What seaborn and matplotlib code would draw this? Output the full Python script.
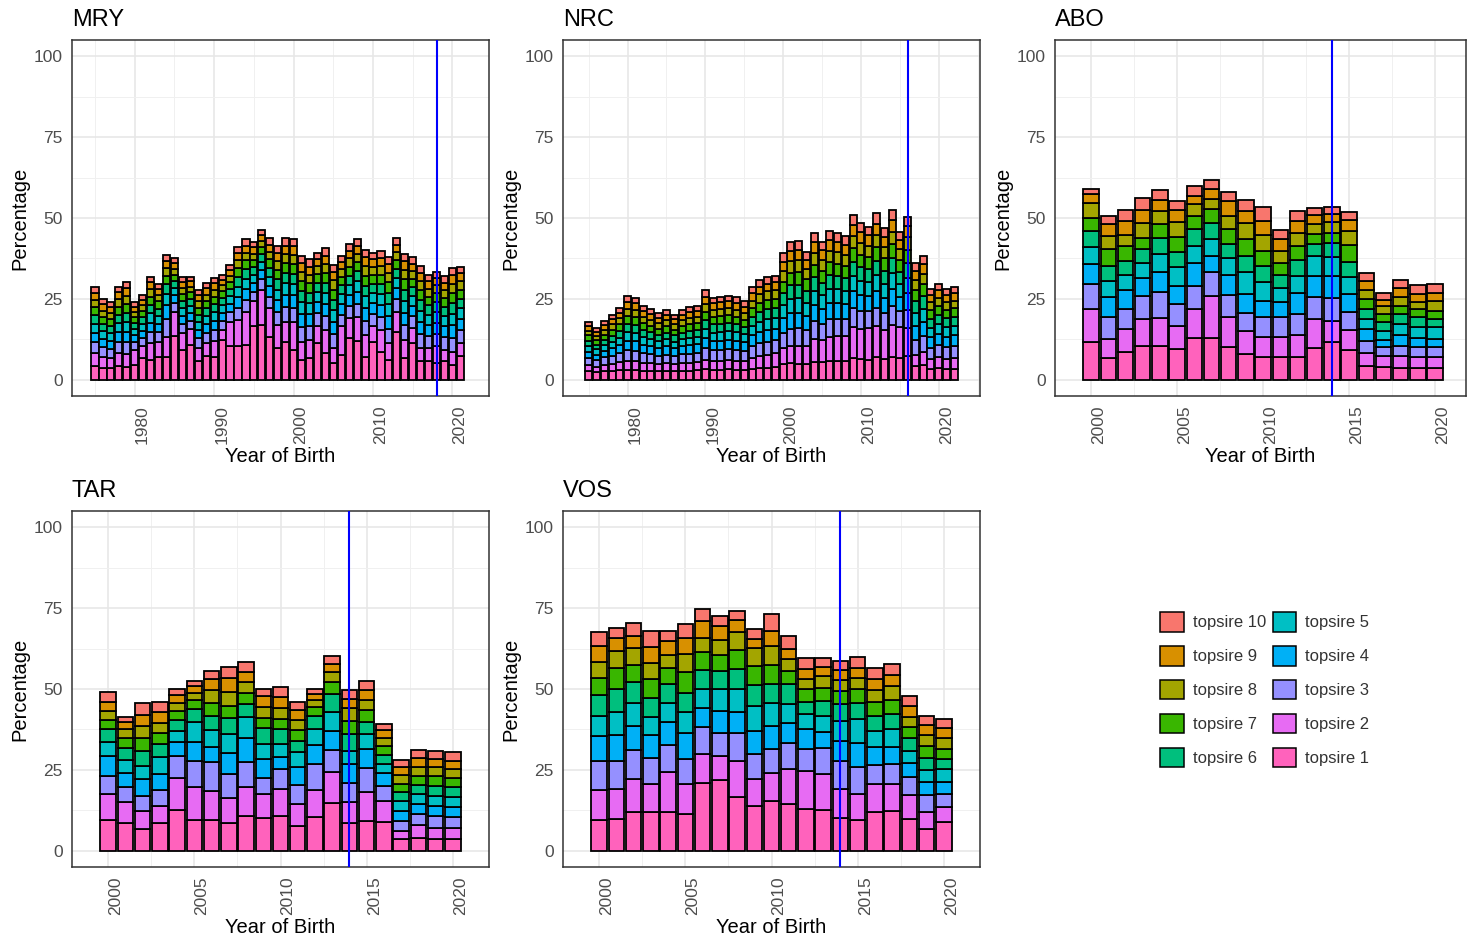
import matplotlib
matplotlib.use("Agg")
import matplotlib.pyplot as plt
from matplotlib.patches import Patch
from matplotlib.ticker import MultipleLocator
import pandas as pd
import seaborn as sns

# ---------------------------------------------------------------------------
# Share of offspring (%) sired by each of the ten most used sires, per birth
# year. Each row lists topsire 1 .. topsire 10 for one year.
# ---------------------------------------------------------------------------
sires = [f"topsire {i}" for i in range(1, 11)]
sire_colors = ["#FF62BC", "#E76BF3", "#9590FF", "#00B0F6", "#00BFC4",
               "#00BF7D", "#39B600", "#A3A500", "#D89000", "#F8766D"]

mry_years = list(range(1975, 2022))
mry_pct = [
    [4.3, 3.9, 3.4, 3.0, 2.8, 2.6, 2.5, 2.3, 2.1, 1.7],
    [3.6, 3.6, 2.8, 2.6, 2.4, 2.3, 2.1, 2.0, 1.9, 1.6],
    [3.6, 3.1, 2.9, 2.5, 2.3, 2.2, 2.1, 2.0, 1.8, 1.5],
    [4.4, 4.0, 3.3, 3.0, 2.8, 2.6, 2.5, 2.3, 2.1, 1.8],
    [4.1, 3.9, 3.6, 3.3, 3.0, 2.9, 2.7, 2.5, 2.3, 1.8],
    [4.6, 4.7, 2.4, 2.1, 2.0, 1.9, 1.8, 1.6, 1.5, 1.3],
    [6.7, 3.6, 2.6, 2.3, 2.1, 2.0, 1.9, 1.8, 1.7, 1.6],
    [6.2, 5.1, 3.4, 3.0, 2.8, 2.7, 2.5, 2.3, 2.1, 1.8],
    [6.9, 4.9, 2.9, 2.6, 2.4, 2.3, 2.2, 2.0, 1.8, 1.6],
    [6.9, 6.3, 5.6, 4.4, 3.4, 3.0, 2.6, 2.4, 2.2, 1.8],
    [13.6, 7.5, 2.6, 2.4, 2.2, 2.1, 2.0, 1.9, 1.8, 1.5],
    [9.3, 5.1, 2.8, 2.5, 2.4, 2.2, 2.1, 1.9, 1.8, 1.6],
    [10.8, 4.8, 2.7, 2.4, 2.2, 2.1, 2.0, 1.8, 1.7, 1.4],
    [5.9, 3.9, 3.0, 2.6, 2.4, 2.3, 2.2, 2.0, 1.9, 1.6],
    [7.4, 3.9, 3.1, 2.8, 2.5, 2.4, 2.2, 2.0, 2.0, 1.7],
    [7.2, 4.9, 3.2, 2.9, 2.7, 2.5, 2.3, 2.1, 2.0, 1.8],
    [12.3, 3.1, 2.8, 2.5, 2.3, 2.2, 2.1, 1.9, 1.7, 1.5],
    [10.5, 7.5, 2.9, 2.6, 2.4, 2.2, 2.1, 1.9, 1.8, 1.6],
    [10.5, 8.0, 3.8, 3.4, 3.1, 2.9, 2.7, 2.5, 2.2, 1.8],
    [10.7, 10.4, 3.7, 3.4, 3.1, 2.9, 2.7, 2.4, 2.2, 1.9],
    [16.5, 7.7, 3.0, 2.7, 2.5, 2.4, 2.2, 2.0, 1.9, 1.6],
    [17.0, 10.8, 3.4, 2.8, 2.5, 2.3, 2.1, 2.0, 1.9, 1.5],
    [13.2, 8.9, 3.6, 3.2, 2.9, 2.8, 2.6, 2.4, 2.2, 1.9],
    [9.8, 7.2, 4.0, 3.6, 3.3, 3.1, 2.9, 2.7, 2.5, 2.1],
    [11.8, 6.2, 4.4, 3.9, 3.5, 3.3, 3.1, 2.8, 2.5, 2.2],
    [9.1, 8.9, 4.3, 3.8, 3.5, 3.2, 3.0, 2.8, 2.6, 2.2],
    [6.0, 5.8, 4.5, 4.0, 3.6, 3.4, 3.2, 2.9, 2.7, 2.2],
    [6.7, 5.6, 4.2, 3.7, 3.4, 3.2, 3.0, 2.7, 2.5, 2.2],
    [11.3, 5.4, 3.8, 3.4, 3.1, 2.9, 2.7, 2.5, 2.3, 1.9],
    [8.4, 7.0, 4.2, 3.8, 3.4, 3.2, 3.0, 2.8, 2.6, 2.2],
    [5.1, 4.7, 4.3, 3.9, 3.5, 3.3, 3.1, 2.9, 2.6, 2.1],
    [7.7, 8.8, 3.6, 3.3, 3.0, 2.8, 2.6, 2.4, 2.2, 1.9],
    [12.9, 6.1, 3.8, 3.4, 3.1, 2.9, 2.8, 2.6, 2.3, 2.0],
    [12.1, 7.4, 4.0, 3.6, 3.3, 3.1, 2.9, 2.6, 2.4, 2.0],
    [7.2, 6.7, 4.4, 3.9, 3.6, 3.3, 3.1, 2.9, 2.7, 2.3],
    [11.8, 4.7, 3.8, 3.4, 3.1, 2.9, 2.7, 2.5, 2.3, 1.9],
    [8.7, 6.7, 4.1, 3.7, 3.3, 3.1, 2.9, 2.7, 2.5, 2.2],
    [6.2, 5.1, 4.5, 4.0, 3.7, 3.4, 3.2, 3.0, 2.7, 2.3],
    [14.9, 6.2, 3.8, 3.4, 3.1, 2.9, 2.7, 2.5, 2.3, 1.9],
    [6.7, 5.6, 4.5, 4.0, 3.6, 3.4, 3.2, 3.0, 2.7, 2.2],
    [11.3, 4.6, 3.7, 3.3, 3.0, 2.8, 2.6, 2.4, 2.2, 1.9],
    [5.7, 4.1, 4.3, 3.8, 3.5, 3.3, 3.0, 2.8, 2.6, 2.2],
    [5.7, 4.1, 3.8, 3.4, 3.1, 2.9, 2.7, 2.5, 2.3, 1.9],
    [5.3, 5.0, 3.9, 3.5, 3.2, 3.0, 2.8, 2.5, 2.3, 1.9],
    [5.7, 3.6, 3.8, 3.4, 3.1, 2.9, 2.7, 2.5, 2.3, 2.1],
    [4.6, 4.1, 4.3, 3.9, 3.5, 3.3, 3.1, 2.9, 2.6, 2.2],
    [7.4, 3.9, 4.0, 3.6, 3.2, 3.0, 2.8, 2.6, 2.4, 2.1],
]

nrc_years = list(range(1975, 2023))
nrc_pct = [
    [2.6, 1.9, 2.2, 1.9, 1.8, 1.7, 1.6, 1.5, 1.4, 1.2],
    [2.4, 1.7, 2.0, 1.7, 1.6, 1.5, 1.4, 1.3, 1.2, 1.1],
    [2.7, 2.0, 2.2, 2.0, 1.8, 1.7, 1.6, 1.5, 1.4, 1.3],
    [2.8, 2.2, 2.5, 2.2, 2.0, 1.9, 1.8, 1.7, 1.6, 1.4],
    [3.0, 2.4, 2.8, 2.5, 2.3, 2.1, 2.0, 1.9, 1.8, 1.5],
    [3.1, 2.8, 3.3, 2.9, 2.7, 2.5, 2.4, 2.2, 2.1, 1.9],
    [3.0, 2.7, 3.3, 2.9, 2.6, 2.5, 2.3, 2.2, 2.1, 1.8],
    [2.8, 2.5, 2.9, 2.6, 2.4, 2.2, 2.1, 1.9, 1.8, 1.6],
    [2.7, 2.4, 2.8, 2.5, 2.2, 2.1, 2.0, 1.9, 1.7, 1.5],
    [2.6, 2.3, 2.6, 2.3, 2.1, 2.0, 1.9, 1.7, 1.6, 1.5],
    [2.7, 2.4, 2.7, 2.5, 2.2, 2.1, 2.0, 1.8, 1.7, 1.5],
    [2.6, 2.3, 2.5, 2.3, 2.1, 1.9, 1.8, 1.7, 1.5, 1.4],
    [2.8, 2.4, 2.7, 2.4, 2.2, 2.1, 2.0, 1.8, 1.7, 1.5],
    [2.8, 2.5, 2.8, 2.6, 2.3, 2.2, 2.0, 1.9, 1.8, 1.5],
    [2.9, 2.6, 2.9, 2.6, 2.3, 2.2, 2.1, 1.9, 1.8, 1.5],
    [3.2, 2.9, 3.6, 3.2, 2.9, 2.7, 2.5, 2.4, 2.2, 2.0],
    [3.1, 2.8, 3.2, 2.9, 2.6, 2.5, 2.3, 2.2, 2.0, 1.8],
    [3.1, 2.8, 3.3, 2.9, 2.7, 2.5, 2.3, 2.2, 2.1, 1.8],
    [3.2, 2.9, 3.3, 3.0, 2.7, 2.5, 2.4, 2.2, 2.0, 1.8],
    [3.1, 2.8, 3.3, 2.9, 2.6, 2.5, 2.3, 2.2, 2.0, 1.8],
    [3.0, 2.7, 3.1, 2.8, 2.5, 2.3, 2.2, 2.0, 1.9, 1.7],
    [3.4, 3.4, 3.6, 3.3, 3.0, 2.8, 2.6, 2.4, 2.2, 1.9],
    [3.6, 3.8, 3.9, 3.5, 3.2, 3.0, 2.8, 2.6, 2.3, 2.0],
    [3.8, 4.0, 4.0, 3.6, 3.3, 3.1, 2.9, 2.6, 2.4, 2.0],
    [4.0, 4.2, 4.0, 3.6, 3.3, 3.1, 2.9, 2.6, 2.4, 2.0],
    [4.9, 4.8, 4.9, 4.4, 4.0, 3.8, 3.5, 3.2, 3.0, 2.6],
    [5.1, 5.3, 5.4, 4.8, 4.4, 4.2, 3.9, 3.6, 3.2, 2.8],
    [5.0, 5.5, 5.4, 4.9, 4.4, 4.2, 3.9, 3.6, 3.2, 2.8],
    [4.8, 5.6, 4.9, 4.4, 4.0, 3.8, 3.5, 3.2, 2.9, 2.5],
    [5.6, 7.0, 5.5, 4.9, 4.5, 4.2, 3.9, 3.6, 3.3, 2.8],
    [5.4, 6.8, 5.1, 4.6, 4.2, 3.9, 3.7, 3.4, 3.0, 2.6],
    [5.8, 7.4, 5.5, 4.9, 4.5, 4.3, 3.9, 3.6, 3.3, 2.9],
    [5.9, 7.6, 5.3, 4.8, 4.4, 4.1, 3.8, 3.5, 3.2, 2.7],
    [5.7, 7.8, 5.2, 4.6, 4.2, 4.0, 3.7, 3.4, 3.1, 2.7],
    [6.8, 9.5, 5.8, 5.2, 4.7, 4.5, 4.2, 3.8, 3.4, 3.0],
    [6.5, 9.2, 5.5, 4.9, 4.5, 4.2, 3.9, 3.6, 3.3, 2.8],
    [6.2, 9.8, 5.2, 4.7, 4.3, 4.1, 3.8, 3.4, 3.1, 2.7],
    [6.9, 9.6, 5.8, 5.2, 4.8, 4.5, 4.2, 3.8, 3.5, 3.1],
    [6.3, 9.1, 5.2, 4.7, 4.3, 4.1, 3.8, 3.4, 3.1, 2.8],
    [7.0, 9.9, 5.9, 5.3, 4.9, 4.6, 4.3, 3.9, 3.6, 3.1],
    [6.6, 9.7, 4.9, 4.4, 4.0, 3.8, 3.6, 3.3, 2.9, 2.6],
    [7.4, 8.6, 5.7, 5.1, 4.7, 4.5, 4.2, 3.8, 3.4, 3.0],
    [4.3, 3.4, 4.7, 4.2, 3.9, 3.7, 3.4, 3.1, 2.9, 2.4],
    [4.5, 4.0, 5.0, 4.4, 4.1, 3.9, 3.6, 3.3, 3.0, 2.5],
    [3.2, 3.1, 3.6, 3.2, 3.0, 2.8, 2.6, 2.4, 2.2, 1.9],
    [3.6, 3.3, 3.8, 3.4, 3.1, 2.9, 2.7, 2.5, 2.3, 1.9],
    [3.3, 3.2, 3.6, 3.2, 2.9, 2.8, 2.6, 2.4, 2.2, 1.8],
    [3.4, 3.3, 3.7, 3.3, 3.0, 2.8, 2.6, 2.4, 2.2, 1.9],
]

abo_years = list(range(2000, 2021))
abo_pct = [
    [11.7, 10.3, 7.5, 6.4, 5.1, 4.9, 4.1, 4.6, 2.9, 1.5],
    [6.6, 6.0, 6.7, 6.2, 5.1, 4.6, 5.1, 4.1, 3.6, 2.6],
    [8.6, 7.0, 6.2, 6.0, 4.5, 4.4, 4.6, 3.6, 4.1, 3.6],
    [10.5, 8.4, 7.0, 5.7, 4.6, 4.1, 3.6, 4.6, 4.1, 3.6],
    [10.5, 8.7, 7.9, 6.2, 5.5, 5.1, 4.1, 4.1, 3.6, 2.9],
    [9.5, 7.2, 6.7, 5.7, 5.7, 4.6, 4.6, 4.8, 3.7, 2.8],
    [12.8, 9.1, 7.2, 6.9, 5.5, 5.1, 4.1, 3.6, 2.6, 3.1],
    [12.8, 13.2, 7.2, 5.1, 5.1, 5.1, 4.3, 3.1, 3.1, 2.6],
    [10.0, 9.3, 6.9, 6.2, 5.1, 4.4, 4.6, 4.1, 4.6, 2.8],
    [7.9, 7.2, 5.7, 5.7, 6.7, 5.1, 5.1, 5.1, 3.6, 3.4],
    [6.9, 6.2, 6.2, 5.1, 5.7, 5.1, 4.6, 5.1, 4.1, 4.4],
    [6.9, 6.2, 6.2, 4.6, 4.6, 3.8, 3.9, 3.6, 3.6, 2.8],
    [6.9, 6.9, 6.5, 6.5, 5.3, 4.9, 4.3, 4.1, 3.6, 3.1],
    [9.7, 9.1, 6.7, 6.7, 6.0, 3.8, 3.1, 3.1, 2.6, 2.4],
    [11.7, 6.5, 7.2, 6.7, 5.9, 4.4, 3.1, 3.3, 2.4, 2.3],
    [9.3, 6.2, 5.6, 5.5, 5.1, 4.8, 5.1, 4.4, 3.4, 2.5],
    [4.3, 4.1, 3.6, 3.8, 3.1, 3.1, 2.9, 2.8, 2.9, 2.3],
    [4.1, 3.3, 2.6, 2.4, 2.8, 2.6, 2.6, 2.3, 2.1, 2.1],
    [3.8, 3.6, 3.1, 3.4, 3.3, 3.1, 2.6, 2.6, 2.8, 2.6],
    [3.5, 3.4, 3.1, 2.8, 3.4, 3.1, 2.6, 2.1, 2.6, 2.6],
    [3.8, 3.1, 3.1, 2.6, 3.6, 2.6, 2.6, 2.8, 2.7, 2.6],
]

tar_years = list(range(2000, 2021))
tar_pct = [
    [9.5, 8.0, 5.7, 6.2, 4.3, 3.9, 2.9, 2.8, 2.8, 3.1],
    [8.5, 6.7, 4.6, 4.1, 4.3, 3.6, 3.1, 2.8, 2.1, 1.6],
    [6.7, 5.7, 4.6, 5.1, 4.1, 4.6, 4.1, 3.8, 3.4, 3.6],
    [8.7, 5.3, 4.9, 4.9, 5.1, 4.0, 3.4, 3.3, 3.4, 3.1],
    [12.6, 9.8, 6.8, 4.3, 3.6, 3.4, 2.8, 2.4, 2.3, 2.1],
    [9.6, 10.0, 8.2, 5.9, 6.2, 3.9, 2.9, 2.0, 2.2, 1.7],
    [9.6, 9.0, 8.7, 4.8, 5.2, 4.5, 3.9, 4.1, 3.3, 2.4],
    [8.5, 7.9, 7.2, 6.7, 5.7, 5.1, 3.8, 4.2, 4.3, 3.4],
    [10.8, 9.0, 7.7, 7.5, 6.2, 4.1, 3.6, 3.4, 3.0, 2.9],
    [10.0, 7.5, 5.1, 5.7, 4.8, 4.9, 3.1, 3.4, 3.3, 2.3],
    [10.8, 8.2, 6.4, 3.7, 3.8, 4.6, 3.3, 3.4, 3.4, 3.0],
    [7.7, 6.7, 5.9, 5.5, 4.6, 3.6, 3.4, 3.1, 3.0, 2.4],
    [10.3, 8.5, 7.9, 5.9, 5.1, 4.1, 2.6, 2.2, 2.0, 1.5],
    [14.9, 9.5, 6.7, 6.0, 5.7, 5.7, 3.8, 2.9, 2.6, 2.3],
    [8.7, 6.4, 5.8, 5.9, 4.1, 5.1, 4.1, 4.1, 2.8, 2.6],
    [9.3, 9.0, 7.2, 6.0, 4.6, 3.8, 3.6, 3.2, 3.1, 2.7],
    [9.0, 6.5, 4.6, 3.8, 2.9, 2.8, 2.7, 2.5, 2.4, 2.1],
    [3.6, 2.6, 3.1, 3.1, 2.9, 2.8, 2.6, 2.6, 2.6, 2.1],
    [4.1, 3.8, 3.4, 3.1, 3.1, 2.8, 2.9, 2.6, 2.8, 2.6],
    [3.8, 3.4, 3.6, 3.1, 3.1, 3.1, 3.1, 2.6, 2.6, 2.4],
    [3.6, 3.3, 3.4, 3.1, 3.1, 3.1, 2.8, 2.9, 2.6, 2.6],
]

vos_years = list(range(2000, 2021))
vos_pct = [
    [9.6, 9.3, 9.0, 7.7, 6.2, 6.2, 5.3, 5.1, 4.9, 4.4],
    [9.8, 9.3, 8.7, 7.9, 7.2, 7.2, 6.5, 5.1, 4.1, 3.1],
    [12.0, 10.1, 9.1, 7.4, 7.2, 6.4, 5.1, 5.5, 3.6, 4.1],
    [12.0, 8.8, 7.9, 7.2, 5.5, 5.9, 5.9, 4.9, 4.9, 5.0],
    [12.0, 12.3, 8.5, 6.9, 6.0, 5.7, 5.1, 4.1, 4.1, 3.3],
    [11.3, 9.3, 7.7, 8.2, 6.4, 6.0, 6.2, 5.7, 5.1, 4.1],
    [21.1, 8.7, 8.5, 5.9, 5.9, 5.7, 5.5, 4.6, 5.1, 3.6],
    [21.9, 7.4, 7.2, 6.7, 6.7, 5.7, 4.8, 4.6, 4.4, 3.1],
    [16.5, 11.3, 8.7, 6.4, 7.0, 6.2, 5.9, 5.7, 3.6, 2.7],
    [13.7, 8.4, 7.7, 7.2, 7.7, 6.4, 6.0, 5.7, 2.6, 3.1],
    [15.4, 8.5, 7.6, 7.0, 7.2, 5.7, 5.9, 6.0, 4.6, 5.3],
    [14.4, 10.8, 8.2, 6.2, 5.7, 6.2, 4.1, 3.6, 3.3, 3.9],
    [12.9, 11.8, 6.9, 6.0, 4.6, 3.8, 3.9, 3.3, 3.1, 3.4],
    [12.7, 11.0, 8.2, 4.8, 4.9, 4.8, 3.9, 3.6, 2.9, 2.8],
    [10.0, 9.1, 8.7, 6.2, 6.2, 5.1, 4.1, 3.4, 3.0, 2.9],
    [9.5, 8.0, 8.5, 7.4, 7.4, 4.9, 4.3, 3.4, 3.1, 3.3],
    [12.1, 8.4, 5.9, 5.8, 4.8, 4.8, 4.1, 3.9, 3.3, 3.4],
    [12.3, 8.2, 6.2, 5.5, 5.3, 4.9, 4.3, 4.3, 3.4, 3.4],
    [9.8, 7.4, 5.5, 4.4, 3.8, 4.1, 3.4, 3.1, 3.1, 3.1],
    [6.7, 5.3, 5.1, 4.1, 3.9, 3.6, 3.6, 3.6, 3.1, 2.8],
    [9.0, 4.4, 4.1, 3.8, 3.9, 3.3, 3.1, 3.4, 3.1, 2.6],
]

# Year marked by the vertical reference line in each population
cut_years = {"MRY": 2018, "NRC": 2016, "ABO": 2014, "TAR": 2014, "VOS": 2014}


def long_table(years, rows):
    recs = []
    for yr, vals in zip(years, rows):
        for sire, v in zip(sires, vals):
            recs.append({"year": yr, "sire": sire, "pct": v})
    return pd.DataFrame(recs)


sns.set_style("white")
plt.rcParams["font.family"] = ["Liberation Sans", "DejaVu Sans"]

W, H = 1467, 934
fig = plt.figure(figsize=(W / 100, H / 100), dpi=100)


def px_axes(x0, y0, x1, y1):
    return fig.add_axes([x0 / W, 1 - y1 / H, (x1 - x0) / W, (y1 - y0) / H])


panels = [
    ("MRY", mry_years, mry_pct, (72, 40, 489, 396), (1972.1, 2024.6), 10),
    ("NRC", nrc_years, nrc_pct, (563, 40, 980, 396), (1971.7, 2025.3), 10),
    ("ABO", abo_years, abo_pct, (1055, 40, 1466, 396), (1997.9, 2021.8), 5),
    ("TAR", tar_years, tar_pct, (72, 511, 489, 867), (1997.9, 2022.1), 5),
    ("VOS", vos_years, vos_pct, (563, 511, 980, 867), (1997.9, 2022.1), 5),
]

palette = dict(zip(sires, sire_colors))

for name, years, rows, box, xlim, step in panels:
    ax = px_axes(*box)
    df = long_table(years, rows)
    sns.histplot(data=df, x="year", weights="pct", hue="sire",
                 hue_order=sires[::-1], palette=palette, multiple="stack",
                 discrete=True, shrink=0.9, edgecolor="black", linewidth=1.3,
                 alpha=1, legend=False, ax=ax, zorder=2)
    ax.axvline(cut_years[name], color="#0000FF", lw=1.5, zorder=5)

    ax.set_xlim(*xlim)
    ax.set_ylim(-5, 105)
    ax.xaxis.set_major_locator(MultipleLocator(step))
    ax.xaxis.set_minor_locator(MultipleLocator(step / 2))
    ax.yaxis.set_major_locator(MultipleLocator(25))
    ax.yaxis.set_minor_locator(MultipleLocator(12.5))
    ax.set_axisbelow(True)
    ax.grid(which="major", color="#E6E6E6", lw=1.1, zorder=0)
    ax.grid(which="minor", color="#F0F0F0", lw=0.7, zorder=0)
    ax.tick_params(which="major", direction="out", length=4, width=0.9,
                   color="#333333", labelcolor="#4D4D4D", labelsize=12.5,
                   pad=2.5)
    ax.tick_params(which="minor", length=0)
    # Rotated year labels hang to the right of their tick
    for lab in ax.get_xticklabels():
        lab.set_rotation(90)
        lab.set_ha("left")
        lab.set_va("top")
    for sp in ax.spines.values():
        sp.set_color("#333333")
        sp.set_linewidth(1.1)
    ax.set_xlabel("Year of Birth", fontsize=14.5, color="black", labelpad=2)
    ax.set_ylabel("Percentage", fontsize=14.5, color="black", labelpad=3)
    ax.set_title(name, loc="left", fontsize=17, color="black", pad=10)

handles = [Patch(facecolor=palette[s], edgecolor="black", linewidth=1.1)
           for s in sires[::-1]]
fig.legend(handles, sires[::-1], ncol=2, loc="upper left",
           bbox_to_anchor=(1152 / W, 1 - 604 / H), frameon=False,
           fontsize=12, handlelength=1.4, handleheight=1.4,
           labelspacing=0.88, handletextpad=0.55, columnspacing=0.4,
           borderpad=0, labelcolor="#333333")

fig.savefig("out.png", dpi=100)
